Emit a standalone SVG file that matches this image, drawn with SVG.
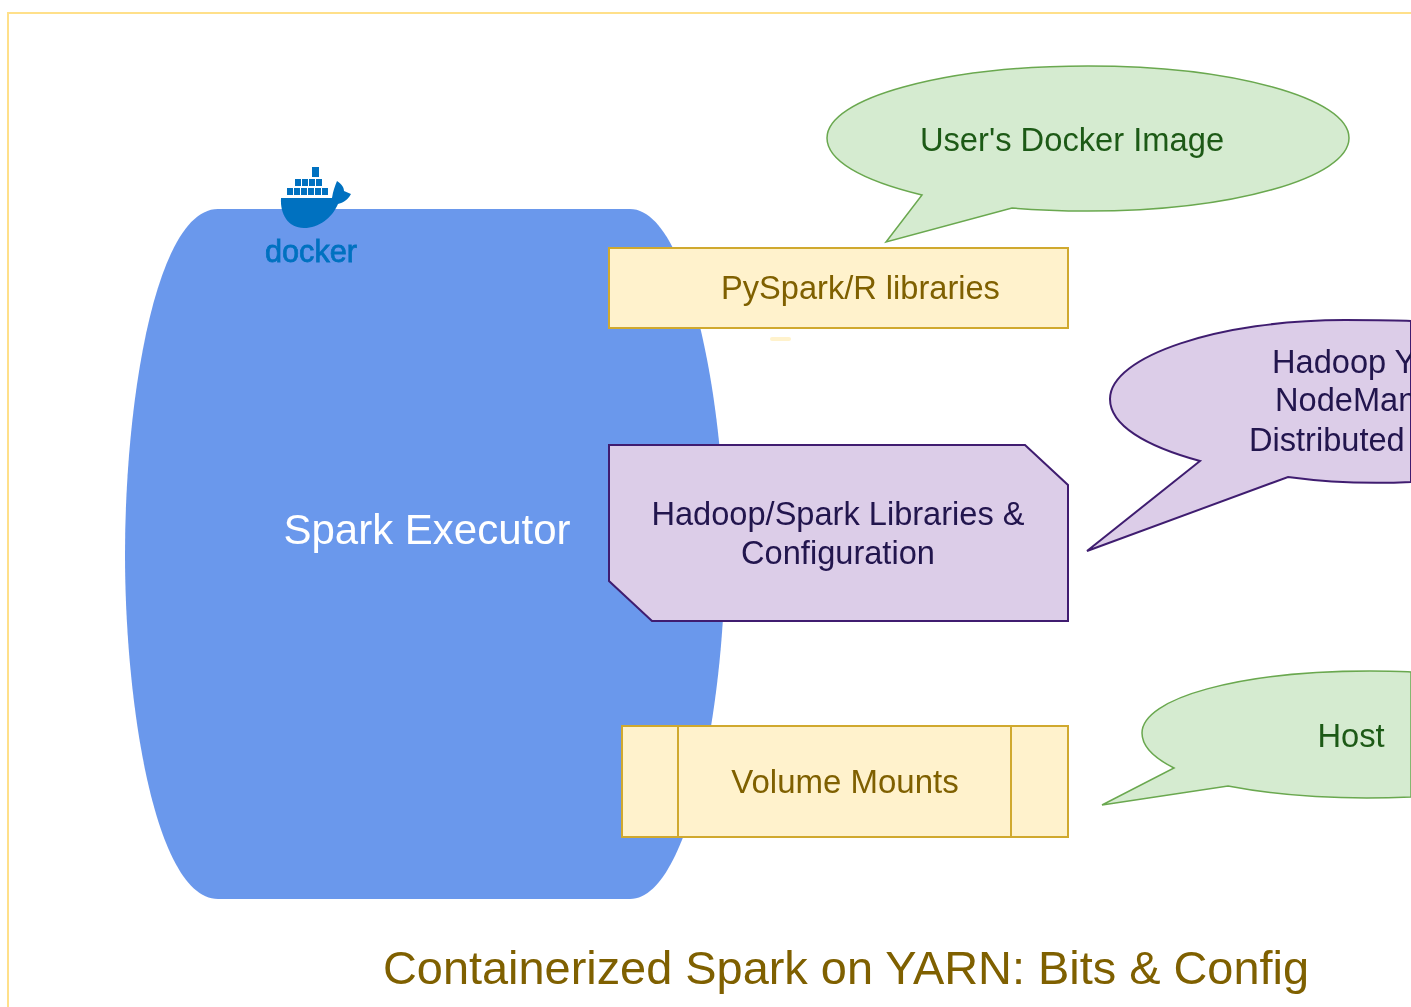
<svg xmlns="http://www.w3.org/2000/svg" width="1411" height="1007" viewBox="0 0 1411 1007">
<style>
text{font-family:"Liberation Sans",Arial,sans-serif;text-anchor:middle}
.s{text-anchor:start}
.y{fill:#fff2cc;stroke:#d0a92f;stroke-width:2}
.yt{fill:#7f6000;font-size:32.6px}
.g{fill:#d5ebd0;stroke:#6aa84f;stroke-width:1.5}
.gt{fill:#1f5a17;font-size:32.7px}
.p{fill:#dccde8;stroke:#3f1f70;stroke-width:2}
.pt{fill:#20124d;font-size:32.6px}
.d{fill:#0071c0}
</style>
<defs><filter id="b" x="-5%" y="-5%" width="110%" height="110%"><feGaussianBlur stdDeviation="0.6"/></filter></defs>
<g filter="url(#b)">
<g id="frame"><path d="M1411 13H8V1007" fill="none" stroke="#ffe08a" stroke-width="2"/></g>
<g id="spark-executor">
<path d="M218 209H630C688 209 725 400 725 554C725 708 688 899 630 899H218C156 899 125 708 125 554C125 400 156 209 218 209Z" fill="#6b98ec"/>
<text x="427" y="544" font-size="42" fill="#fff">Spark Executor</text>
</g>
<g id="docker-logo">
<path class="d" d="M281 198H332C333 191 335 186 337 181C342 184 344 188 344 191L351 194C347 201 342 203 338 204C332 218 319 228 304 228C288 228 280 214 281 198Z"/>
<g class="d">
<rect x="287" y="188" width="6" height="7"/><rect x="294" y="188" width="6" height="7"/><rect x="301" y="188" width="6" height="7"/><rect x="308" y="188" width="6" height="7"/><rect x="315" y="188" width="6" height="7"/><rect x="322" y="188" width="6" height="7"/>
<rect x="295" y="179" width="6" height="7"/><rect x="302" y="179" width="6" height="7"/><rect x="309" y="179" width="6" height="7"/><rect x="316" y="179" width="6" height="7"/>
<rect x="312" y="167" width="7" height="10"/>
</g>
<text x="311" y="262" font-size="32" fill="#0071c0" stroke="#0071c0" stroke-width="0.8" textLength="92" lengthAdjust="spacingAndGlyphs">docker</text>
</g>
<g id="users-docker-image">
<path class="g" d="M886 242L922 195C860 180 827 160 827 138C827 98 944 66 1088 66C1232 66 1349 98 1349 138C1349 178 1232 211 1088 211C1060 211 1035 210 1012 208Z"/>
<text class="gt" x="1072" y="151">User's Docker Image</text>
</g>
<g id="pyspark-libraries">
<rect class="y" x="609" y="248" width="459" height="80"/>
<text class="yt" x="860.500" y="299">PySpark/R libraries</text>
<rect x="770" y="337" width="21" height="4" rx="2" fill="#fff2cc"/>
</g>
<g id="hadoop-yarn">
<path class="p" d="M1087 551L1200 461C1145 446 1110 425 1110 399C1110 356 1220 320 1345 320C1370 320 1395 320 1411 321V482C1370 484 1325 482 1288 477Z"/>
<text class="pt s" x="1272" y="373">Hadoop Y</text>
<text class="pt s" x="1275" y="411">NodeMan</text>
<text class="pt s" x="1249" y="451">Distributed</text>
</g>
<g id="hadoop-spark-libraries">
<path class="p" d="M609 445H1025L1068 485V621H652L609 581Z"/>
<text class="pt" x="838" y="525">Hadoop/Spark Libraries &amp;</text>
<text class="pt" x="838" y="564">Configuration</text>
</g>
<g id="volume-mounts">
<rect class="y" x="622" y="726" width="446" height="111"/>
<path d="M678 726V837M1011 726V837" stroke="#d0a92f" stroke-width="2" fill="none"/>
<text class="yt" x="845" y="793" style="font-size:33px">Volume Mounts</text>
</g>
<g id="host">
<path class="g" d="M1102 805L1174 768C1152 757 1142 746 1142 733C1142 698 1240 671 1370 671C1385 671 1400 671 1411 672V797C1340 800 1280 796 1228 786Z"/>
<text class="gt" x="1351" y="747">Host</text>
</g>
<text x="846" y="984" font-size="46.900" fill="#7f6000">Containerized Spark on YARN: Bits &amp; Config</text>
</g>
</svg>
